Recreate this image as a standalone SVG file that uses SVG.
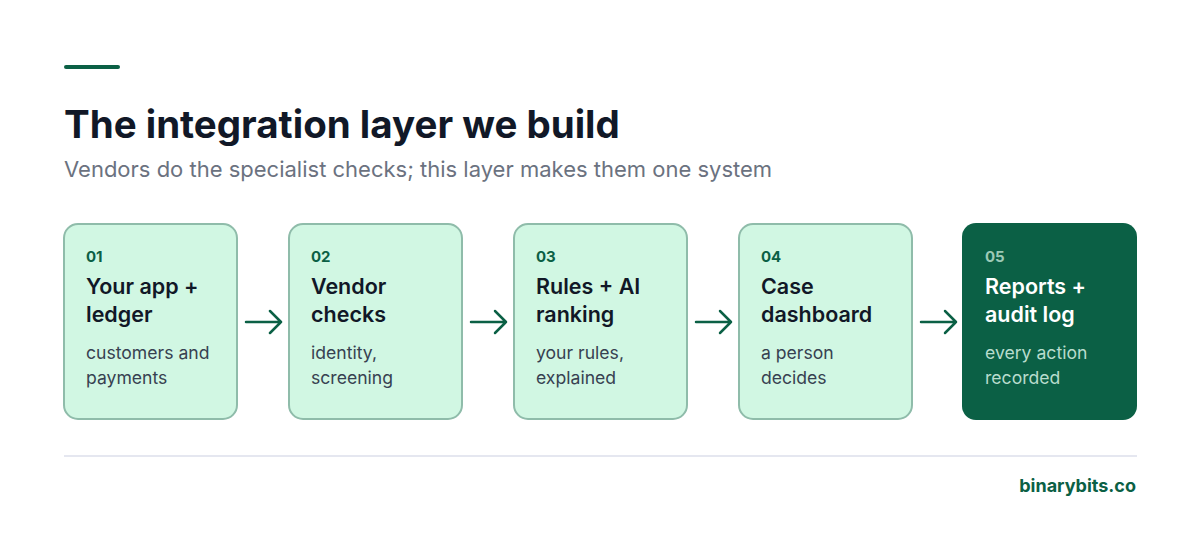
<svg xmlns="http://www.w3.org/2000/svg" width="1200" height="540" viewBox="0 0 1200 540">
<style>
text{font-family:Inter,"Liberation Sans",sans-serif}
.box{fill:#d1f7e3;stroke:#8fbcaa;stroke-width:2}
.num{font-size:15px;font-weight:700;fill:#0b6045}
.ttl{font-size:21.5px;font-weight:600;fill:#111827}
.sub{font-size:17.6px;fill:#374151}
.arr{stroke:#0b6045;stroke-width:2.5;fill:none;stroke-linecap:round;stroke-linejoin:round}
</style>
<rect width="1200" height="540" fill="#fff"/>
<rect x="64" y="65" width="56" height="4" rx="2" fill="#0b6045"/>
<text x="64" y="138" font-size="38.5" font-weight="700" fill="#111827">The integration layer we build</text>
<text x="64" y="177" font-size="22" fill="#6b7280">Vendors do the specialist checks; this layer makes them one system</text>
<g id="n1"><rect class="box" x="64" y="224" width="173" height="195" rx="14"/>
<text class="num" x="86" y="262">01</text><text class="ttl" x="86" y="294">Your app +</text><text class="ttl" x="86" y="322">ledger</text>
<text class="sub" x="86" y="359">customers and</text><text class="sub" x="86" y="384">payments</text></g>
<g id="n2"><rect class="box" x="289" y="224" width="173" height="195" rx="14"/>
<text class="num" x="311" y="262">02</text><text class="ttl" x="311" y="294">Vendor</text><text class="ttl" x="311" y="322">checks</text>
<text class="sub" x="311" y="359">identity,</text><text class="sub" x="311" y="384">screening</text></g>
<g id="n3"><rect class="box" x="514" y="224" width="173" height="195" rx="14"/>
<text class="num" x="536" y="262">03</text><text class="ttl" x="536" y="294">Rules + AI</text><text class="ttl" x="536" y="322">ranking</text>
<text class="sub" x="536" y="359">your rules,</text><text class="sub" x="536" y="384">explained</text></g>
<g id="n4"><rect class="box" x="739" y="224" width="173" height="195" rx="14"/>
<text class="num" x="761" y="262">04</text><text class="ttl" x="761" y="294">Case</text><text class="ttl" x="761" y="322">dashboard</text>
<text class="sub" x="761" y="359">a person</text><text class="sub" x="761" y="384">decides</text></g>
<g id="n5"><rect x="962" y="223" width="175" height="197" rx="14" fill="#0b6045"/>
<text class="num" x="985" y="262" style="fill:#9cc9b6">05</text><text class="ttl" x="985" y="294" style="fill:#fff">Reports +</text><text class="ttl" x="985" y="322" style="fill:#fff">audit log</text>
<text class="sub" x="985" y="359" style="fill:#b8dccd">every action</text><text class="sub" x="985" y="384" style="fill:#b8dccd">recorded</text></g>
<g id="connectors">
<path class="arr" d="M246 322H281M270 311L281 322L270 333"/>
<path class="arr" d="M471 322H506M495 311L506 322L495 333"/>
<path class="arr" d="M696 322H731M720 311L731 322L720 333"/>
<path class="arr" d="M921 322H956M945 311L956 322L945 333"/>
</g>
<rect x="64" y="455" width="1073" height="2" fill="#e5e7f0"/>
<text x="1136" y="492" text-anchor="end" font-size="18" font-weight="700" fill="#0b6045">binarybits.co</text>
</svg>
